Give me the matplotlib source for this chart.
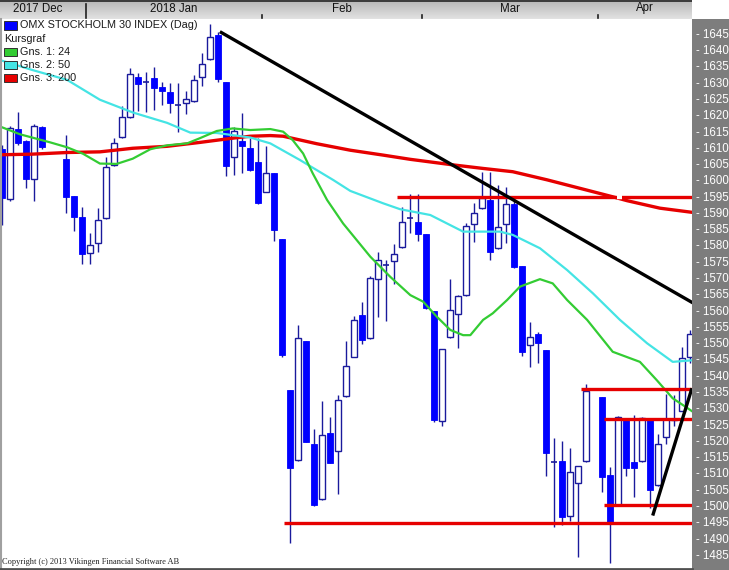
import numpy as np
import matplotlib
matplotlib.use("Agg")
import matplotlib.pyplot as plt
from matplotlib.patches import Rectangle

W, H = 729, 570

## candle data, one slot per trading day, None = no trading ##
opens = [1609.5, 1594.0, 1615.6, 1612.0, 1600.2, 1616.3, None, None, 1606.4, 1595.0,
         1588.7, 1577.4, 1580.5, 1588.2, 1604.6, 1613.2, 1619.2, 1631.7, 1630.2, 1631.2,
         1628.6, 1627.1, 1623.1, 1623.5, 1624.3, 1631.5, 1637.0, 1644.5, 1630.1, 1606.9,
         1612.0, 1609.7, 1605.6, 1596.4, 1602.0, 1581.8, 1535.5, 1513.9, 1550.5, 1518.9,
         1501.9, 1522.3, 1516.6, 1533.5, 1545.7, 1558.5, 1551.3, 1569.7, 1573.9, 1575.0,
         1579.3, 1588.3, 1587.0, 1583.4, 1559.7, 1526.0, 1551.6, 1558.7, 1564.5, 1586.3,
         1591.3, 1593.8, 1579.0, 1586.3, 1592.6, 1573.5, 1549.3, 1552.6, 1547.7, 1513.5,
         1513.6, 1496.9, 1506.8, 1513.6, None, 1533.2, 1509.3, 1500.1, 1526.8, 1513.2,
         1513.6, 1526.5, 1506.3, 1520.9, 1526.3, 1529.1, 1545.5]
closes = [1594.3, 1615.8, 1611.4, 1600.2, 1616.6, 1610.0, None, None, 1594.8, 1588.5,
          1577.1, 1580.0, 1587.7, 1603.8, 1611.2, 1619.2, 1632.5, 1629.3, 1630.0, 1628.3,
          1627.4, 1623.5, 1622.9, 1624.7, 1630.7, 1635.5, 1643.8, 1631.0, 1604.3, 1615.0,
          1610.5, 1603.0, 1593.0, 1602.0, 1584.6, 1546.2, 1511.6, 1551.3, 1519.6, 1500.1,
          1521.6, 1513.1, 1532.4, 1542.8, 1557.0, 1550.8, 1569.9, 1575.4, 1573.7, 1577.2,
          1587.0, 1588.1, 1583.4, 1560.5, 1526.2, 1547.9, 1560.0, 1564.3, 1585.8, 1589.7,
          1594.3, 1577.9, 1585.4, 1592.5, 1573.1, 1547.2, 1551.8, 1549.8, 1516.0, 1513.3,
          1496.5, 1510.2, 1512.0, 1535.2, None, 1508.8, 1494.3, 1527.2, 1511.4, 1511.4,
          1526.8, 1504.7, 1518.9, 1526.5, 1526.7, 1545.2, 1552.6]
highs = [1610.7, 1616.5, 1620.9, 1612.2, 1617.1, 1616.5, None, None, 1613.8, 1595.0,
         1591.6, 1583.6, 1591.3, 1606.9, 1612.7, 1622.7, 1634.2, 1632.7, 1633.2, 1634.7,
         1630.1, 1629.6, 1629.6, 1627.4, 1632.2, 1639.0, 1647.9, 1645.5, 1630.1, 1616.3,
         1620.6, 1612.7, 1612.7, 1610.5, 1602.0, 1581.8, 1535.5, 1555.4, 1550.5, 1523.4,
         1532.1, 1527.2, 1533.9, 1550.5, 1558.2, 1562.4, 1570.5, 1577.9, 1575.4, 1580.2,
         1591.6, 1595.6, 1595.6, 1583.4, 1559.7, 1548.0, 1569.7, 1564.5, 1586.7, 1592.8,
         1602.5, 1602.5, 1598.4, 1597.9, 1594.4, 1573.5, 1556.4, 1553.4, 1547.7, 1520.6,
         1519.9, 1517.5, 1512.2, 1537.3, None, 1533.2, 1511.9, 1527.5, 1526.8, 1527.8,
         1527.2, 1526.5, 1522.1, 1534.2, 1533.9, 1548.6, 1553.9]
lows = [1586.1, 1593.5, 1610.7, 1597.4, 1593.6, 1609.5, None, None, 1589.9, 1584.4,
        1574.1, 1574.1, 1577.9, 1588.0, 1604.3, 1613.0, 1619.0, 1621.2, 1620.9, 1621.4,
        1623.0, 1620.6, 1614.8, 1620.2, 1624.0, 1628.8, 1636.8, 1630.1, 1601.3, 1601.5,
        1602.0, 1602.7, 1592.6, 1596.2, 1581.3, 1545.7, 1488.4, 1513.7, 1519.4, 1499.8,
        1501.7, 1513.0, 1503.5, 1533.3, 1545.5, 1549.5, 1551.1, 1558.0, 1556.7, 1568.0,
        1579.1, 1583.8, 1581.3, 1560.3, 1525.7, 1524.5, 1551.4, 1548.3, 1564.3, 1581.0,
        1591.0, 1575.4, 1578.8, 1580.5, 1572.9, 1546.0, 1542.6, 1543.7, 1509.0, 1493.5,
        1494.0, 1495.3, 1484.2, 1513.4, None, 1504.2, 1482.4, 1500.0, 1509.0, 1502.7,
        1513.4, 1499.1, 1506.1, 1518.9, 1524.4, 1528.9, 1543.6]

## moving averages (slot, value) ##
ma24_x = [-0.2, 2.3, 6.1, 8.2, 10.2, 12.3, 14.4, 16.4, 18.6, 20.7, 23.2, 24.8, 26.9, 28.9,
          31.1, 33.6, 35.2, 36.4, 37.7, 38.9, 40.7, 42.7, 44.4, 46.1, 48.6, 51.1, 52.7,
          54.4, 56.1, 57.7, 58.6, 60.2, 61.4, 63.2, 64.8, 67.3, 68.9, 70.7, 73.2, 76.4,
          79.8, 81.9, 83.9, 85.2, 86.4]
ma24_y = [1616.4, 1614.0, 1611.5, 1610.0, 1608.0, 1605.0, 1604.9, 1606.5, 1609.4, 1610.6,
          1611.2, 1612.8, 1615.0, 1615.8, 1615.3, 1615.6, 1614.8, 1612.2, 1608.1, 1602.0,
          1593.8, 1586.6, 1581.5, 1576.4, 1570.2, 1564.6, 1562.6, 1558.0, 1553.9, 1552.3,
          1552.3, 1557.0, 1559.0, 1563.1, 1567.2, 1569.5, 1568.2, 1563.1, 1557.0, 1547.2,
          1544.1, 1538.5, 1532.9, 1530.8, 1528.8]
ma50_x = [-0.2, 3.9, 8.2, 12.3, 16.4, 20.7, 23.6, 26.9, 31.1, 33.6, 37.3, 41.5, 43.6, 47.7,
          49.8, 53.6, 57.7, 62.3, 63.9, 67.3, 70.7, 73.9, 77.3, 80.7, 83.9, 86.4]
ma50_y = [1636.8, 1633.7, 1630.7, 1624.6, 1620.7, 1617.5, 1614.5, 1614.4, 1613.0, 1611.2,
          1606.1, 1599.9, 1596.6, 1592.8, 1591.0, 1589.2, 1584.1, 1584.1, 1583.1, 1579.0,
          1572.3, 1565.2, 1557.0, 1549.8, 1544.1, 1544.6]
ma200_x = [-0.2, 3.9, 8.2, 12.3, 16.4, 20.7, 24.8, 28.9, 31.1, 33.6, 35.2, 39.4, 43.6,
           47.7, 51.1, 56.1, 60.2, 63.9, 68.2, 72.3, 76.4, 78.2, 82.3, 86.4]
ma200_y = [1607.7, 1607.9, 1608.4, 1608.6, 1609.7, 1610.3, 1611.5, 1612.8, 1613.4, 1613.6,
           1613.4, 1611.1, 1609.1, 1607.6, 1606.3, 1604.7, 1603.5, 1602.5, 1600.0, 1597.4,
           1594.8, 1593.6, 1591.3, 1590.0]

## drawn support / resistance lines ##
hlines_level = [1594.7, 1535.7, 1526.6, 1500.0, 1494.5]
hlines_start = [49.4, 72.4, 75.35, 75.35, 35.35]
trend_x = [[27.3, 86.5], [81.4, 86.3]]
trend_y = [[1645.5, 1562.1], [1496.9, 1536.0]]

months = ["2017 Dec", "2018 Jan", "Feb", "Mar", "Apr"]
month_first = [0, 11, 33, 53, 75]

legend_names = ["Gns. 1: 24", "Gns. 2: 50", "Gns. 3: 200"]

BLUE = "#0000ff"
EDGE = "#1a1a9c"
GREEN = "#33cc33"
CYAN = "#44e4e4"
RED = "#e60000"

X0, X1 = 0.06, 86.31
Y0, Y1 = 1481.1, 1649.4

fig = plt.figure(figsize=(W / 100, H / 100), dpi=100)
fig.patch.set_facecolor("white")
plt.rcParams["font.family"] = ["Liberation Sans", "DejaVu Sans"]

# gray price scale panel
fig.patches.append(Rectangle((692 / W, 0), 37 / W, 551 / H, transform=fig.transFigure,
                             facecolor="#7d7d7d", edgecolor="none", zorder=-1))

ax = fig.add_axes([2 / W, 3 / H, 690 / W, 548 / H])
ax.set_xlim(X0, X1)
ax.set_ylim(Y0, Y1)
for s in ax.spines.values():
    s.set_visible(False)
ax.set_xticks([])
ax.yaxis.tick_right()
ticks = np.arange(1485, 1646, 5)
ax.set_yticks(ticks)
ax.set_yticklabels(["- %d" % t for t in ticks])
ax.tick_params(axis="y", length=0, pad=3, labelsize=8.3, labelcolor="white")

o = np.array(opens, dtype=float)
c = np.array(closes, dtype=float)
hi = np.array(highs, dtype=float)
lo = np.array(lows, dtype=float)
bw = 0.75
for i in range(len(o)):
    if np.isnan(o[i]):
        continue
    ax.vlines(i, lo[i], hi[i], color=EDGE, lw=1.0, zorder=2)
    bot, top = min(o[i], c[i]), max(o[i], c[i])
    if top - bot < 0.4:
        ax.hlines(o[i], i - bw / 2, i + bw / 2, color=EDGE, lw=1.2, zorder=3)
        continue
    if c[i] < o[i]:
        ax.add_patch(Rectangle((i - bw / 2, bot), bw, top - bot, facecolor=BLUE,
                               edgecolor=BLUE, lw=0.6, zorder=3))
    else:
        ax.add_patch(Rectangle((i - bw / 2, bot), bw, top - bot, facecolor="white",
                               edgecolor=EDGE, lw=1.0, zorder=3))

ax.plot(ma200_x, ma200_y, color=RED, lw=2.4, zorder=4, solid_capstyle="butt")
ax.plot(ma50_x, ma50_y, color=CYAN, lw=1.6, zorder=4)
ax.plot(ma24_x, ma24_y, color=GREEN, lw=1.6, zorder=4)

for lev, start in zip(hlines_level, hlines_start):
    ax.plot([start, X1], [lev, lev], color=RED, lw=2.4, zorder=5, solid_capstyle="butt")
# small white break where the 200 average meets the top line
ax.plot([76.9, 77.5], [1594.7, 1594.7], color="white", lw=3.2, zorder=5.5,
        solid_capstyle="butt")
for tx, ty in zip(trend_x, trend_y):
    ax.plot(tx, ty, color="black", lw=2.4, zorder=6, solid_capstyle="butt")

# legend
def px(x, y):
    return x / W, 1 - y / H

leg = [("OMX STOCKHOLM 30 INDEX (Dag)", BLUE, 25.5), ("Kursgraf", None, 38.8),
       (legend_names[0], GREEN, 51.7), (legend_names[1], CYAN, 65.0),
       (legend_names[2], RED, 78.3)]
for name, col, yy in leg:
    if col is None:
        fig.text(*px(4, yy), name, fontsize=7.8, color="#1a1a1a", va="center", ha="left")
    else:
        fig.patches.append(Rectangle(px(4, yy + 4), 12.5 / W, 8 / H, transform=fig.transFigure,
                                     facecolor=col, edgecolor="#303030", lw=0.7, zorder=5))
        fig.text(*px(20, yy), name, fontsize=7.8, color="#1a1a1a", va="center", ha="left")

# month header
hdr = fig.add_axes([0, 551 / H, 692 / W, 19 / H])
hdr.set_xlim(X0 - 2 / 8, X1)
hdr.set_ylim(0, 19)
hdr.imshow(np.linspace(0, 1, 50).reshape(-1, 1), cmap=matplotlib.colors.LinearSegmentedColormap.from_list(
    "hdr", ["#e2e2e2", "#b6b6b6"]), aspect="auto", extent=[X0 - 2 / 8, X1, 19, 0], zorder=0)
hdr.axis("off")
hdr.plot([X0 - 2 / 8, X1], [18.4, 18.4], color="#3a3a3a", lw=1.4, zorder=2)
bounds = [b - 0.5 for b in month_first[1:]]
for j, b in enumerate(bounds):
    if j == 0:
        hdr.plot([b, b], [1, 15], color="#202020", lw=1.2, zorder=2)
    else:
        hdr.plot([b, b], [1, 4.5], color="#202020", lw=1.2, zorder=2)
edges = [X0] + bounds + [X1]
for j, m in enumerate(months):
    cx = (edges[j] + edges[j + 1]) / 2
    if j == 0:
        cx = edges[1] - 6
    hdr.text(cx, 10.5, m, fontsize=8.3, ha="center", va="center", color="#111111", zorder=3)

# frame lines
fig.add_artist(plt.Line2D([1 / W, 1 / W], [0, 551 / H], color="#a0a0a0", lw=1.5))
fig.add_artist(plt.Line2D([0, 692 / W], [1.5 / H, 1.5 / H], color="#505050", lw=2))

fig.text(*px(2, 562.5), "Copyright (c) 2013 Vikingen Financial Software AB",
         fontsize=6, family=["Liberation Serif", "DejaVu Serif"], color="#222222",
         va="center", ha="left")

fig.savefig("out.png", dpi=100)
